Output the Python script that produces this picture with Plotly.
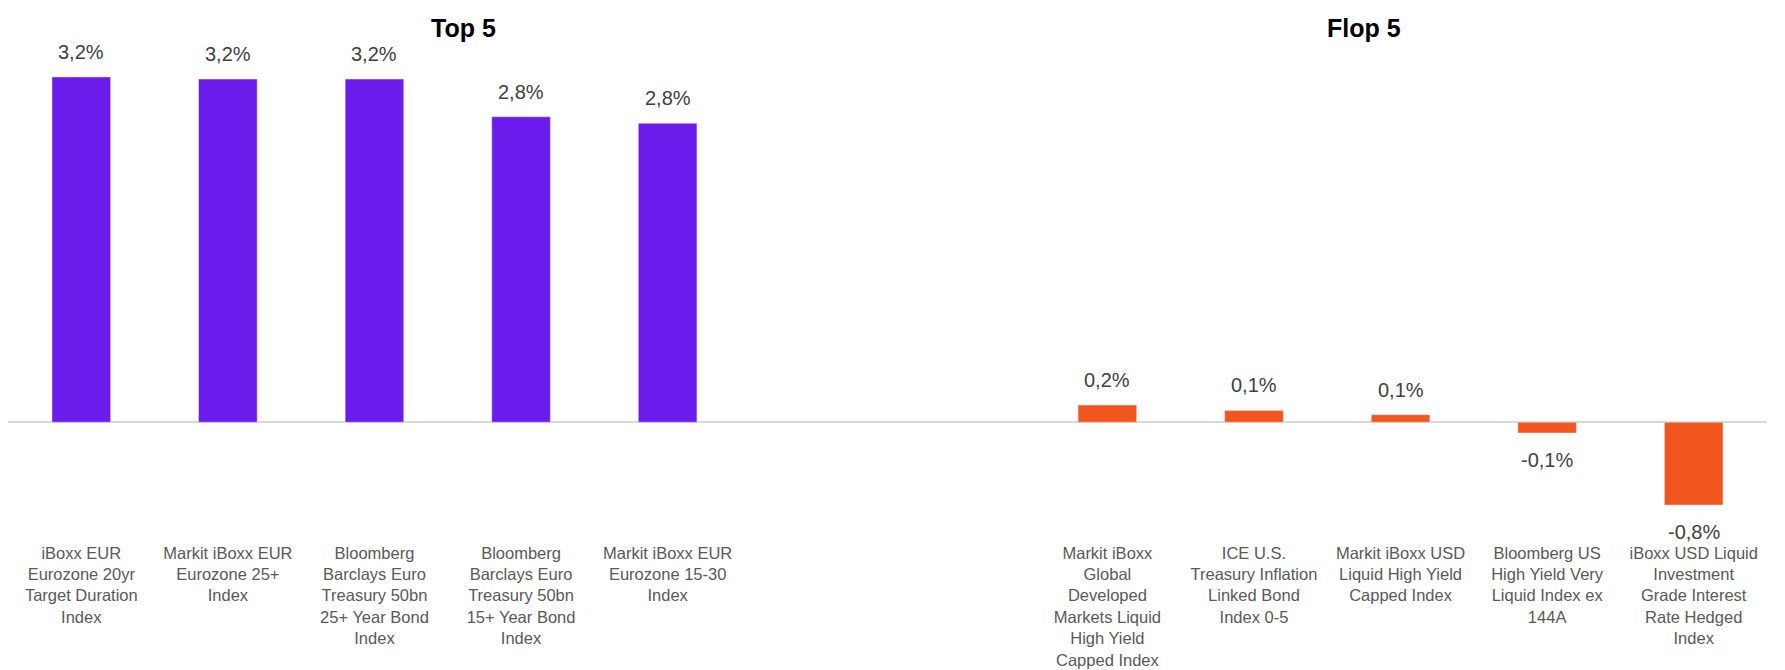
import plotly.graph_objects as go

# ---- data ----
top_labels = [
    "iBoxx EUR<br>Eurozone 20yr<br>Target Duration<br>Index",
    "Markit iBoxx EUR<br>Eurozone 25+<br>Index",
    "Bloomberg<br>Barclays Euro<br>Treasury 50bn<br>25+ Year Bond<br>Index",
    "Bloomberg<br>Barclays Euro<br>Treasury 50bn<br>15+ Year Bond<br>Index",
    "Markit iBoxx EUR<br>Eurozone 15-30<br>Index",
]
top_values = [3.21, 3.19, 3.19, 2.84, 2.78]

flop_labels = [
    "Markit iBoxx<br>Global<br>Developed<br>Markets Liquid<br>High Yield<br>Capped Index",
    "ICE U.S.<br>Treasury Inflation<br>Linked Bond<br>Index 0-5",
    "Markit iBoxx USD<br>Liquid High Yield<br>Capped Index",
    "Bloomberg US<br>High Yield Very<br>Liquid Index ex<br>144A",
    "iBoxx USD Liquid<br>Investment<br>Grade Interest<br>Rate Hedged<br>Index",
]
flop_values = [0.16, 0.11, 0.07, -0.10, -0.77]

section_titles = ["Top 5", "Flop 5"]

# ---- layout helpers ----
GAP_SLOTS = 2
top_x = list(range(len(top_values)))
flop_x = [len(top_values) + GAP_SLOTS + i for i in range(len(flop_values))]

PURPLE = "#6B1CEC"
ORANGE = "#F0561D"
FONT = "Liberation Sans, Arial, sans-serif"

W, H = 1785, 670
ML, MR, MT, MB = 0, 26, 33, 137
PW, PH = W - ML - MR, H - MT - MB


def fmt(v):
    return f"{v:.1f}".replace(".", ",") + "%"


fig = go.Figure()
fig.add_trace(go.Bar(x=top_x, y=top_values, width=0.4, marker_color=PURPLE,
                     hoverinfo="skip"))
fig.add_trace(go.Bar(x=flop_x, y=flop_values, width=0.4, marker_color=ORANGE,
                     hoverinfo="skip"))

annotations = []
for xs, vs in ((top_x, top_values), (flop_x, flop_values)):
    for x, v in zip(xs, vs):
        annotations.append(dict(
            x=x, y=v, xref="x", yref="y", text=fmt(v), showarrow=False,
            yanchor="bottom" if v >= 0 else "top",
            yshift=12 if v >= 0 else -14,
            font=dict(family=FONT, size=20, color="#404040"),
        ))

for title, cx in zip(section_titles, (455, 1356)):
    annotations.append(dict(
        x=(cx - ML) / PW, y=(H - MB - 20) / PH, xref="paper", yref="paper",
        xanchor="center", yanchor="middle",
        text="<b>" + title + "</b>", showarrow=False,
        font=dict(family=FONT, size=25, color="#000000")))

fig.update_layout(
    width=W, height=H,
    margin=dict(l=ML, r=MR, t=MT, b=MB, autoexpand=False),
    paper_bgcolor="white", plot_bgcolor="white",
    barmode="overlay",
    showlegend=False,
    annotations=annotations,
    font=dict(family=FONT),
)
fig.update_xaxes(
    range=[-0.5, len(top_values) + GAP_SLOTS + len(flop_values) - 0.5],
    tickmode="array",
    tickvals=top_x + flop_x,
    ticktext=top_labels + flop_labels,
    tickangle=0,
    tickfont=dict(family=FONT, size=16.5, color="#595959"),
    showgrid=False, showline=False, zeroline=False, ticks="",
)
fig.update_yaxes(
    range=[-1.104, 3.544],
    showgrid=False, showticklabels=False, ticks="", showline=False,
    zeroline=True, zerolinecolor="#D9D9D9", zerolinewidth=2,
)

fig.write_html("out.html")
